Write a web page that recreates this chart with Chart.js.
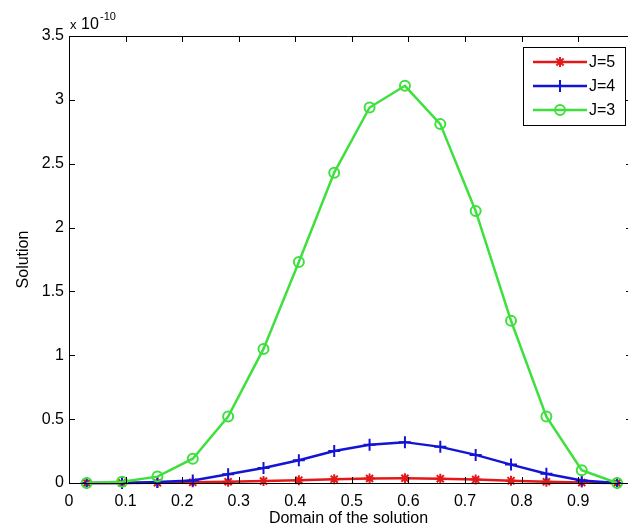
<!DOCTYPE html>
<html>
<head>
<meta charset="utf-8">
<script src="https://cdn.jsdelivr.net/npm/chart.js@4/dist/chart.umd.min.js"></script>
<style>
  html, body { margin: 0; padding: 0; background: #fff; }
  #wrap { width: 628px; height: 528px; overflow: hidden; }
</style>
</head>
<body>
<div id="wrap"><canvas id="solChart" width="628" height="528"></canvas></div>
<script>
// x positions of the nodes (domain of the solution)
const xNodes = [0.03125, 0.09375, 0.15625, 0.21875, 0.28125, 0.34375, 0.40625, 0.46875,
                0.53125, 0.59375, 0.65625, 0.71875, 0.78125, 0.84375, 0.90625, 0.96875];

// values in units of 1e-10
const j5Values = [0, 0, 0.002, 0.005, 0.010, 0.015, 0.022, 0.030, 0.035, 0.037, 0.034, 0.027, 0.018, 0.010, 0.003, 0];
const j4Values = [0, 0, 0.008, 0.020, 0.068, 0.118, 0.178, 0.250, 0.300, 0.320, 0.283, 0.220, 0.144, 0.073, 0.020, 0];
const j3Values = [0, 0.01, 0.05, 0.19, 0.52, 1.05, 1.73, 2.43, 2.94, 3.11, 2.81, 2.13, 1.27, 0.52, 0.10, 0];

const xTicks = [0, 0.1, 0.2, 0.3, 0.4, 0.5, 0.6, 0.7, 0.8, 0.9];
const yTicks = [0, 0.5, 1, 1.5, 2, 2.5, 3, 3.5];

const FONT = "'Liberation Sans', Arial, sans-serif";

function toPoints(vals) {
    return vals.map((v, i) => ({ x: xNodes[i], y: v }));
}

const seriesList = [
    { label: 'J=5', color: '#e41818', style: 'star',   data: j5Values, radius: 5 },
    { label: 'J=4', color: '#1414d4', style: 'cross',  data: j4Values, radius: 6 },
    { label: 'J=3', color: '#3ee03e', style: 'circle', data: j3Values, radius: 5 }
];

// 테두리, 안쪽 눈금, 지수 표시, 범례
const matlabBox = {
    id: 'matlabBox',
    afterDraw(chart) {
        const ctx = chart.ctx;
        const a = chart.chartArea;
        const xs = chart.scales.x, ys = chart.scales.y;
        const rightEdge = a.right + 6; // 오른쪽 테두리는 그림 밖
        ctx.save();
        ctx.strokeStyle = '#000';
        ctx.lineWidth = 1;
        ctx.beginPath();
        ctx.moveTo(a.right, a.top + 0.5);
        ctx.lineTo(a.left + 0.5, a.top + 0.5);
        ctx.lineTo(a.left + 0.5, a.bottom + 0.5);
        ctx.lineTo(a.right, a.bottom + 0.5);
        ctx.stroke();
        ctx.beginPath();
        xTicks.forEach(v => {
            const px = Math.round(xs.getPixelForValue(v)) + 0.5;
            ctx.moveTo(px, a.bottom); ctx.lineTo(px, a.bottom - 6);
            ctx.moveTo(px, a.top); ctx.lineTo(px, a.top + 6);
        });
        yTicks.forEach(v => {
            const py = Math.round(ys.getPixelForValue(v)) + 0.5;
            ctx.moveTo(a.left, py); ctx.lineTo(a.left + 6, py);
            ctx.moveTo(rightEdge, py); ctx.lineTo(rightEdge - 8, py);
        });
        ctx.stroke();

        // x 10^-10
        ctx.fillStyle = '#000';
        ctx.textBaseline = 'alphabetic';
        ctx.textAlign = 'left';
        ctx.font = '13px ' + FONT;
        ctx.fillText('x', a.left + 1, a.top - 7);
        ctx.font = '16px ' + FONT;
        ctx.fillText('10', a.left + 12, a.top - 7);
        ctx.font = '11px ' + FONT;
        ctx.fillText('-10', a.left + 31, a.top - 16);

        // legend
        const lx = 523, ly = 47, lw = 102, lh = 78;
        ctx.fillStyle = '#fff';
        ctx.fillRect(lx, ly, lw, lh);
        ctx.strokeStyle = '#000';
        ctx.lineWidth = 1;
        ctx.strokeRect(lx + 0.5, ly + 0.5, lw, lh);
        ctx.font = '16px ' + FONT;
        ctx.textBaseline = 'middle';
        seriesList.forEach((s, i) => {
            const y = ly + 15 + i * 24;
            ctx.strokeStyle = s.color;
            ctx.fillStyle = 'rgba(0,0,0,0)';
            ctx.lineWidth = 2.5;
            ctx.beginPath();
            ctx.moveTo(lx + 10, y); ctx.lineTo(lx + 64, y);
            ctx.stroke();
            ctx.lineWidth = 2;
            Chart.helpers.drawPoint(ctx, { pointStyle: s.style, radius: s.radius, borderWidth: 2, rotation: 0 }, lx + 37, y);
            ctx.fillStyle = '#000';
            ctx.fillText(s.label, lx + 66, y + 1);
        });
        ctx.restore();
    }
};

new Chart(document.getElementById('solChart'), {
    type: 'line',
    data: {
        datasets: seriesList.map((s, i) => ({
            label: s.label,
            data: toPoints(s.data),
            borderColor: s.color,
            backgroundColor: 'rgba(0,0,0,0)',
            borderWidth: 2.5,
            pointStyle: s.style,
            pointRadius: s.radius,
            pointBorderWidth: 2,
            pointBorderColor: s.color,
            pointBackgroundColor: 'rgba(0,0,0,0)',
            tension: 0,
            clip: false,
            order: 3 - i
        }))
    },
    options: {
        responsive: false,
        animation: false,
        events: [],
        layout: { autoPadding: false, padding: { top: 36, right: 0, left: 0, bottom: 0 } },
        plugins: { legend: { display: false }, tooltip: { enabled: false } },
        scales: {
            x: {
                type: 'linear',
                min: 0,
                max: 0.988,
                afterBuildTicks: sc => { sc.ticks = xTicks.map(v => ({ value: v })); },
                afterFit: sc => { sc.height = 45; sc.paddingRight = 0; },
                grid: { display: false, drawTicks: false },
                border: { display: false },
                ticks: {
                    color: '#000',
                    font: { family: FONT, size: 16 },
                    padding: 9,
                    maxRotation: 0,
                    autoSkip: false,
                    callback: v => String(v)
                },
                title: {
                    display: true,
                    text: 'Domain of the solution',
                    color: '#000',
                    font: { family: FONT, size: 16 },
                    padding: { top: 0, bottom: 0 }
                }
            },
            y: {
                min: 0,
                max: 3.5,
                afterBuildTicks: sc => { sc.ticks = yTicks.map(v => ({ value: v })); },
                afterFit: sc => { sc.width = 69; },
                grid: { display: false, drawTicks: false },
                border: { display: false },
                ticks: {
                    color: '#000',
                    font: { family: FONT, size: 16 },
                    padding: 5,
                    autoSkip: false,
                    callback: v => String(v)
                },
                title: {
                    display: true,
                    text: 'Solution',
                    color: '#000',
                    font: { family: FONT, size: 16 },
                    padding: { top: 14, bottom: 0 }
                }
            }
        }
    },
    plugins: [matlabBox]
});
</script>
</body>
</html>
